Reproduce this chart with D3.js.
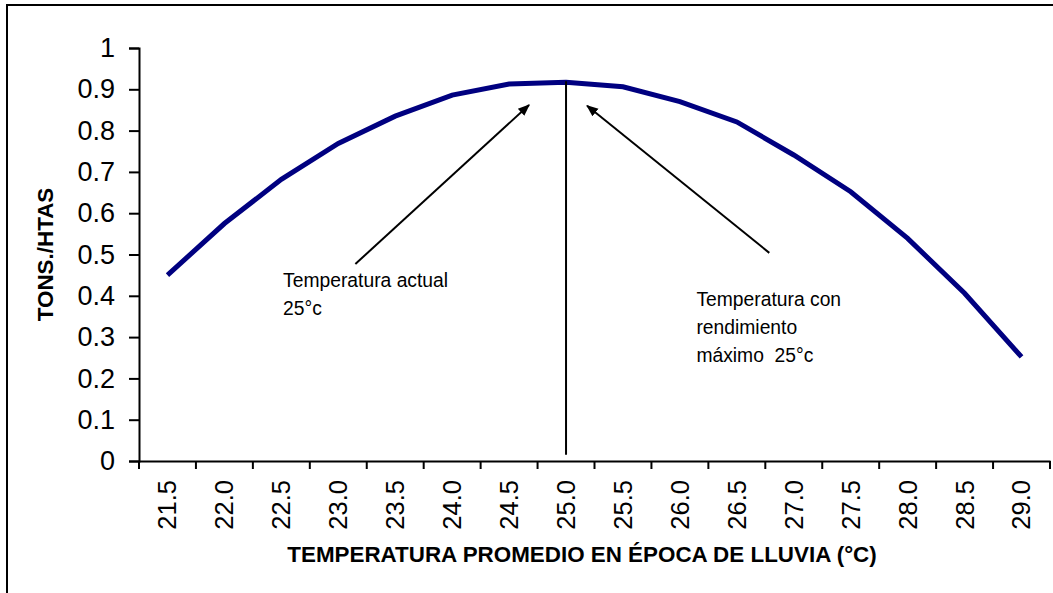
<!DOCTYPE html>
<html>
<head>
<meta charset="utf-8">
<script src="https://cdn.jsdelivr.net/npm/d3@7"></script>
<style>
  html, body { margin: 0; padding: 0; background: #fff; }
  svg { display: block; font-family: "Liberation Sans", Arial, sans-serif; }
</style>
</head>
<body>
<svg id="chart" width="1053" height="593"></svg>
<script>
// ---- data ----
const categories = ["21.5","22.0","22.5","23.0","23.5","24.0","24.5","25.0","25.5","26.0","26.5","27.0","27.5","28.0","28.5","29.0"];
const yieldValues = [0.450, 0.575, 0.682, 0.769, 0.835, 0.886, 0.913, 0.917, 0.906, 0.870, 0.821, 0.741, 0.652, 0.539, 0.406, 0.252];
const yTicks = [0, 0.1, 0.2, 0.3, 0.4, 0.5, 0.6, 0.7, 0.8, 0.9, 1];
const yTickLabels = ["0","0.1","0.2","0.3","0.4","0.5","0.6","0.7","0.8","0.9","1"];
const xTitle = "TEMPERATURA PROMEDIO EN ÉPOCA DE LLUVIA (°C)";
const yTitle = "TONS./HTAS";
const markerCategory = "25.0";
// annotations in data units: [category index (fractional), value]
const arrowLeft = { from: [3.30, 0.477], to: [6.35, 0.862] };
const arrowRight = { from: [10.57, 0.504], to: [7.37, 0.860] };
const noteLeft = { pos: [2.03, 0.421], lines: ["Temperatura actual", "25°c"] };
const noteRight = { pos: [9.29, 0.376], lines: ["Temperatura con", "rendimiento", "máximo  25°c"] };

// ---- layout ----
const svg = d3.select("#chart");
const m = { left: 139, right: 1050, top: 48, bottom: 461 };

svg.append("rect").attr("x", 7).attr("y", 5).attr("width", 1200).attr("height", 800)
  .attr("fill", "none").attr("stroke", "#000").attr("stroke-width", 2);

const x = d3.scaleBand().domain(categories).range([m.left, m.right]).padding(0);
const y = d3.scaleLinear().domain([0, 1]).range([m.bottom, m.top]);
const bw = x.bandwidth();
const xc = c => x(c) + bw / 2;
const xi = i => m.left + (i + 0.5) * bw;

// y axis
const yAxis = svg.append("g").attr("transform", `translate(${m.left},0)`)
  .call(d3.axisLeft(y).tickValues(yTicks).tickFormat((d, i) => yTickLabels[i]).tickSizeOuter(0).tickSize(10).tickPadding(14));
yAxis.select(".domain").attr("stroke", "#000").attr("stroke-width", 2);
yAxis.selectAll(".tick line").attr("stroke", "#000").attr("stroke-width", 2);
yAxis.selectAll(".tick text").attr("font-size", 27).attr("fill", "#000")
  .attr("font-family", "'Liberation Sans', Arial, sans-serif");

// x axis
const xAxis = svg.append("g").attr("transform", `translate(0,${m.bottom})`)
  .call(d3.axisBottom(x).tickSize(0).tickSizeOuter(0));
xAxis.select(".domain").attr("stroke", "#000").attr("stroke-width", 2);
xAxis.selectAll(".tick line").remove();
// tick marks between categories
const boundaries = d3.range(categories.length + 1).map(i => m.left + i * bw);
svg.append("g").selectAll("line").data(boundaries).join("line")
  .attr("x1", d => d).attr("x2", d => d)
  .attr("y1", m.bottom).attr("y2", m.bottom + 8)
  .attr("stroke", "#000").attr("stroke-width", 2);
xAxis.selectAll(".tick text")
  .attr("font-size", 25.5).attr("fill", "#000")
  .attr("font-family", "'Liberation Sans', Arial, sans-serif")
  .attr("text-anchor", "end")
  .attr("transform", "rotate(-90)")
  .attr("x", -19).attr("y", 0).attr("dy", "0.35em");

// titles
svg.append("text").attr("x", 582).attr("y", 562).attr("text-anchor", "middle")
  .attr("font-size", 22.4).attr("font-weight", "bold").text(xTitle);
svg.append("text").attr("transform", `translate(53,${(m.top + m.bottom) / 2}) rotate(-90)`)
  .attr("text-anchor", "middle").attr("font-size", 22.4).attr("font-weight", "bold").text(yTitle);

// data line
const line = d3.line().x((d, i) => xc(categories[i])).y(d => y(d));
svg.append("path").datum(yieldValues).attr("d", line)
  .attr("fill", "none").attr("stroke", "#000080").attr("stroke-width", 5)
  .attr("stroke-linejoin", "miter");

// vertical marker
const peak = yieldValues[categories.indexOf(markerCategory)];
svg.append("line").attr("x1", xc(markerCategory)).attr("x2", xc(markerCategory))
  .attr("y1", y(peak) - 1).attr("y2", y(0.015))
  .attr("stroke", "#000").attr("stroke-width", 2);

// arrows
const defs = svg.append("defs");
defs.append("marker").attr("id", "ah").attr("viewBox", "0 0 10 10")
  .attr("refX", 9).attr("refY", 5).attr("markerWidth", 12).attr("markerHeight", 12)
  .attr("markerUnits", "userSpaceOnUse").attr("orient", "auto")
  .append("path").attr("d", "M0,1 L10,5 L0,9 Z").attr("fill", "#000");
[arrowLeft, arrowRight].forEach(a => {
  svg.append("line")
    .attr("x1", xi(a.from[0])).attr("y1", y(a.from[1]))
    .attr("x2", xi(a.to[0])).attr("y2", y(a.to[1]))
    .attr("stroke", "#000").attr("stroke-width", 2)
    .attr("marker-end", "url(#ah)");
});

// notes
[noteLeft, noteRight].forEach(n => {
  const t = svg.append("text").attr("x", xi(n.pos[0])).attr("y", y(n.pos[1]))
    .attr("font-size", 19.3).attr("fill", "#000");
  n.lines.forEach((l, i) => {
    t.append("tspan").attr("x", xi(n.pos[0])).attr("dy", i === 0 ? 0 : 28)
      .attr("xml:space", "preserve").style("white-space", "pre").text(l);
  });
});
</script>
</body>
</html>
